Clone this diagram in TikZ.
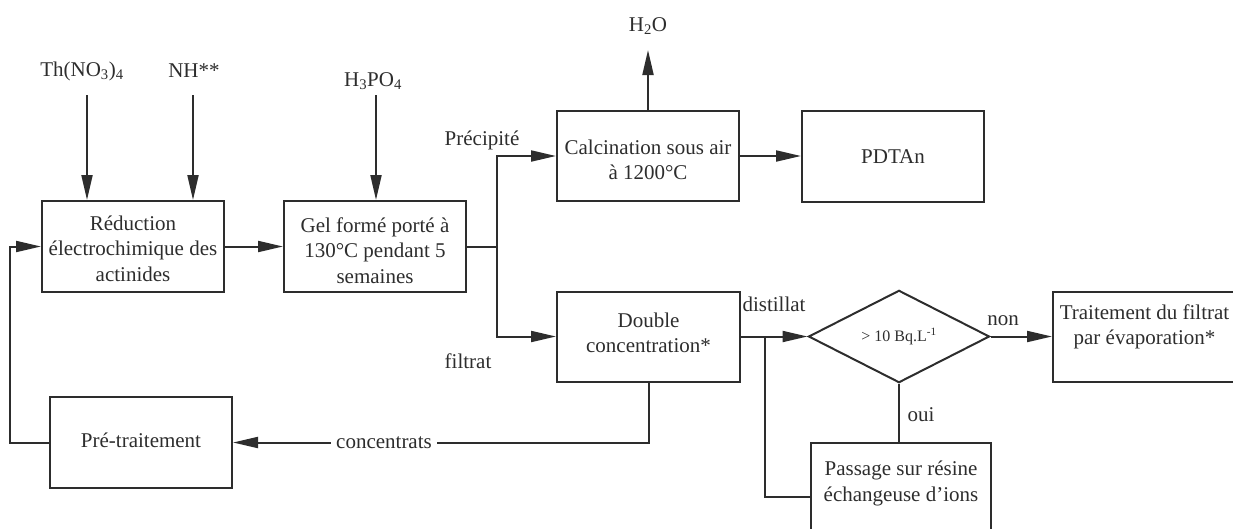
\documentclass[tikz,border=0pt]{standalone}
\usepackage{fontspec}
\setmainfont{Liberation Serif}
\usetikzlibrary{arrows.meta,shapes.geometric}
\definecolor{ink}{RGB}{45,45,45}
\begin{document}
\begin{tikzpicture}[x=1pt,y=-1pt,
  every node/.style={text=ink, font=\fontsize{21}{25.5}\selectfont},
  box/.style={draw=ink, line width=2pt, minimum width=182pt, minimum height=91pt, align=center, inner sep=0pt},
  lbl/.style={inner sep=0pt, align=center},
  arr/.style={draw=ink, line width=2pt, -{Triangle[length=25pt,width=11pt]}},
  ln/.style={draw=ink, line width=2pt},
]
\useasboundingbox (0,0) rectangle (1233,528);
\clip (0,0) rectangle (1233,528);

% boxes
\node[box, label={[lbl, yshift=-2pt]center:Réduction\\électrochimique des\\actinides}] (red) at (133,246.5) {};
\node[box, label={[lbl, yshift=-4pt]center:Gel formé porté à\\130°C pendant 5\\semaines}] (gel) at (375,246.5) {};
\node[box, minimum height=90pt, label={[lbl, yshift=-4pt]center:Calcination sous air\\à 1200°C}] (calc) at (648,156) {};
\node[box] (pdt) at (893,156.5) {PDTAn};
\node[box, minimum width=183pt, minimum height=90pt, label={[lbl, yshift=3.5pt]center:Double\\concentration*}] (dbl) at (648.5,336.5) {};
\node[draw=ink, line width=2pt, diamond, minimum width=181pt, minimum height=92pt, inner sep=0pt,
      font=\fontsize{16}{18}\selectfont] (dia) at (899,336.5) {> 10 Bq.L\textsuperscript{-1}};
\node[box, minimum width=183pt, minimum height=90pt,
      label={[lbl, yshift=9.5pt]center:Traitement du filtrat\\par évaporation*}] (trait) at (1144.5,336.5) {};
\node[box, minimum width=180pt, minimum height=108pt,
      label={[lbl, yshift=13.5pt]center:Passage sur résine\\échangeuse d’ions}] (pass) at (901,497) {};
\node[box,
      label={[lbl, yshift=2pt]center:Pré-traitement}] (pre) at (141,442.5) {};

% input labels
\node[lbl] (th) at (82,71) {Th(NO\textsubscript{3})\textsubscript{4}};
\node[lbl] (nh) at (194,71) {NH**};
\node[lbl] (h3) at (373,81) {H\textsubscript{3}PO\textsubscript{4}};
\node[lbl] (h2o) at (648,26) {H\textsubscript{2}O};
\coordinate (thin) at (87,95);
\coordinate (nhin) at (193,95);
\coordinate (h3in) at (376,95);
\coordinate (h2otip) at (648,50);

% flow labels
\node[lbl] (prec) at (482,140) {Précipité};
\node[lbl] (filt) at (468,361) {filtrat};
\node[lbl] (dist) at (774,304) {distillat};
\node[lbl] (non) at (1003,321) {non};
\node[lbl] (oui) at (921,415) {oui};

% connectors
\draw[arr] (thin) -- (thin |- red.north);
\draw[arr] (nhin) -- (nhin |- red.north);
\draw[arr] (h3in) -- (h3in |- gel.north);
\draw[arr] (calc.north) -- (h2otip);
\draw[arr] (red) -- (gel);
\coordinate (split) at (497,246.5);
\draw[ln] (gel.east) -- (split);
\draw[arr] (split) |- (calc.west);
\draw[arr] (split) |- (dbl.west);
\draw[arr] (calc.east) -- (calc.east -| pdt.west);
\draw[arr] (dbl.east) -- (dia.west);
\draw[arr] (dia.east) -- (trait.west);
\draw[ln] (dia.south) -- (dia.south |- pass.north);
\coordinate (jn) at (765,336.5);
\draw[ln] (jn) |- (pass.west);
\draw[arr] (dbl.south) |- (pre.east);
\node[lbl, fill=white, inner xsep=5pt, inner ysep=2pt] (conc) at (384,442.5) {concentrats};
\coordinate (fb) at (10,442.5);
\draw[arr] (pre.west) -- (fb) |- (red.west);
\end{tikzpicture}
\end{document}
